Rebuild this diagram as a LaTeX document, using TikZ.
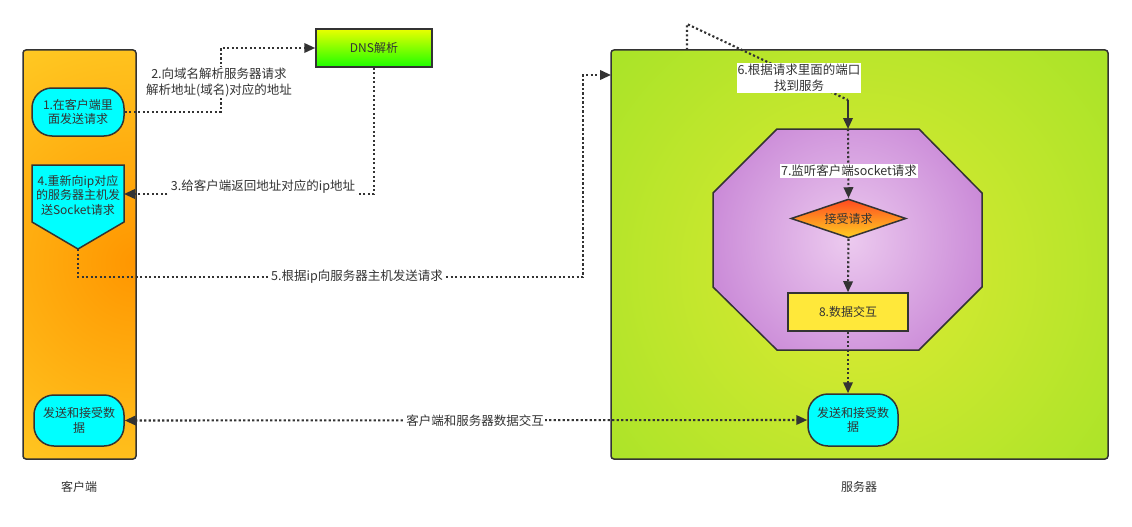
\documentclass[tikz,border=0pt]{standalone}
\usepackage{fontspec}
\setmainfont{Noto Sans CJK SC}
\usetikzlibrary{arrows.meta,shapes.geometric}
\definecolor{ln}{HTML}{333333}
\definecolor{txt}{HTML}{333333}
\definecolor{cyanf}{HTML}{00FFFF}
\definecolor{cliOrange}{HTML}{FF9600}
\definecolor{cliYellow}{HTML}{FFE838}
\definecolor{srvIn}{HTML}{DEEA33}
\definecolor{srvOut}{HTML}{84DF20}
\definecolor{octIn}{HTML}{ECCAEF}
\definecolor{octOut}{HTML}{A849C0}
\definecolor{dnsTop}{HTML}{EAFF00}
\definecolor{dnsBot}{HTML}{1CFF00}
\definecolor{diaTop}{HTML}{FF4A20}
\definecolor{diaBot}{HTML}{FFCF22}
\definecolor{dataY}{HTML}{FFE83A}
\begin{document}
\begin{tikzpicture}[x=1pt,y=-1pt,
  every node/.style={text=txt, font=\fontsize{12}{14.5}\selectfont},
  box/.style={draw=ln, line width=1.5pt},
  stadium/.style={box, fill=cyanf, rounded corners=20pt, align=center, inner sep=0pt},
  lbl/.style={fill=white, inner sep=1pt, align=center, font=\fontsize{12.5}{16}\selectfont},
  dotline/.style={draw=ln, line width=2.1pt, dash pattern=on 2.2pt off 2.3pt},
  dotarrow/.style={dotline, -{Triangle[length=11pt,width=9.5pt]}},
  solidarrow/.style={draw=ln, line width=2pt, -{Triangle[length=11pt,width=9.5pt]}},
  biarrow/.style={dotline, {Triangle[length=11pt,width=9.5pt]}-{Triangle[length=11pt,width=9.5pt]}}
]
\useasboundingbox (0,0) rectangle (1132,527);

% ---- client container ----
\begin{scope}
  \clip[rounded corners=3pt] (23,50) rectangle (136,459);
  \shade[inner color=cliOrange, outer color=cliYellow] (136,262) circle (390);
\end{scope}
\node[box, rounded corners=3pt, minimum width=113pt, minimum height=409pt, inner sep=0pt] (client) at (79.5,254.5) {};

% ---- server container ----
\begin{scope}
  \clip[rounded corners=3pt] (611,50) rectangle (1108,459);
  \shade[inner color=srvIn, outer color=srvOut] (858,270) circle (560);
\end{scope}
\node[box, rounded corners=3pt, minimum width=497pt, minimum height=409pt, inner sep=0pt] (server) at (859.5,254.5) {};

% ---- octagon ----
\begin{scope}
  \clip (777,129)--(919,129)--(982,193)--(982,287)--(919,350)--(777,350)--(713,287)--(713,193)--cycle;
  \shade[inner color=octIn, outer color=octOut] (848,240) circle (285);
\end{scope}
\draw[box, line join=miter] (777,129)--(919,129)--(982,193)--(982,287)--(919,350)--(777,350)--(713,287)--(713,193)--cycle;
\coordinate (octtop) at (848,129);

% ---- client nodes ----
\node[stadium, minimum width=92pt, minimum height=48pt] (n1) at (78,112) {1.在客户端里\\面发送请求};
\draw[box, fill=cyanf, line join=miter] (32,165) -- (124,165) -- (124,222) -- (78,249) -- (32,222) -- cycle;
\node[align=center, inner sep=0pt] (n4) at (78,195) {4.重新向ip对应\\的服务器主机发\\送Socket请求};
\coordinate (n4r) at (124,194);
\coordinate (n4b) at (78,249);
\node[stadium, minimum width=90pt, minimum height=51pt] (n9) at (79,420.5) {发送和接受数\\据};

% ---- DNS ----
\node[box, top color=dnsTop, bottom color=dnsBot, minimum width=116pt, minimum height=38pt, inner sep=0pt] (dns) at (374,48) {DNS解析};

% ---- server nodes ----
\node[box, diamond, aspect=2.95, top color=diaTop, bottom color=diaBot, minimum width=115pt, minimum height=39pt, inner sep=0pt] (acc) at (848.5,218.5) {接受请求};
\node[box, fill=dataY, minimum width=120pt, minimum height=38pt, inner sep=0pt] (data) at (848,312) {8.数据交互};
\node[stadium, minimum width=90pt, minimum height=52pt] (n10) at (853,420) {发送和接受数\\据};
\coordinate (srvin) at (611,75);
\coordinate (srvtop) at (687,50);
\coordinate (bend6) at (848,100);

% ---- connectors ----
\draw[dotarrow] (n1.east) -- ++(96,0) |- (dns.west);
\draw[dotarrow] (dns.south) |- (n4r);
\draw[dotarrow] (n4b) -- ++(0,28) -| ([xshift=-28pt]srvin) -- (srvin);
\draw[dotline] (srvtop) -- ++(0,-26) -- (bend6);
\draw[solidarrow] (bend6) -- (octtop);
\draw[dotarrow] (octtop) -- (acc.north);
\draw[dotarrow] (acc.south) -- (data.north);
\draw[dotarrow] (data.south) -- (data.south |- n10.north);
\draw[biarrow] (n9.east) -- (n10.west);

% ---- labels ----
\node[lbl] (l2) at (219,82) {2.向域名解析服务器请求\\解析地址(域名)对应的地址};
\node[lbl] (l3) at (263,187) {3.给客户端返回地址对应的ip地址};
\node[lbl] (l5) at (357,277) {5.根据ip向服务器主机发送请求};
\node[lbl] (l6) at (799,78) {6.根据请求里面的端口\\找到服务};
\node[lbl] (l7) at (849,171) {7.监听客户端socket请求};
\node[lbl] (l8) at (475,421) {客户端和服务器数据交互};
\node[font=\fontsize{12}{14}\selectfont] (tc) at (79,487) {客户端};
\node[font=\fontsize{12}{14}\selectfont] (ts) at (859,487) {服务器};
\end{tikzpicture}
\end{document}
